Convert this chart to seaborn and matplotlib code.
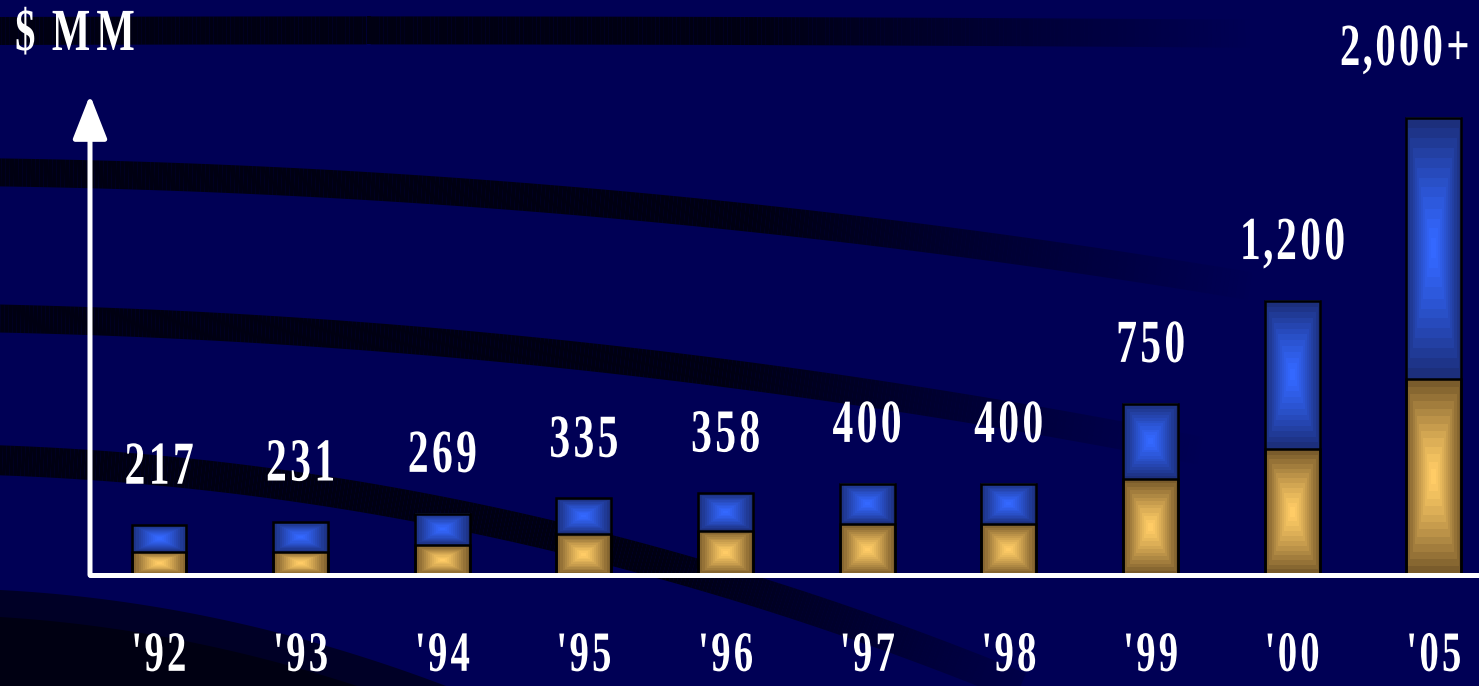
import numpy as np
import pandas as pd
import seaborn as sns
import matplotlib
matplotlib.use("Agg")
import matplotlib.pyplot as plt
from matplotlib.patheffects import AbstractPathEffect
from matplotlib.path import Path
from matplotlib.patches import Polygon
from matplotlib.collections import LineCollection
from matplotlib.colors import to_rgb

# ---------------- data ----------------
years = ["'92", "'93", "'94", "'95", "'96", "'97", "'98", "'99", "'00", "'05"]
totals = [217, 231, 269, 335, 358, 400, 400, 750, 1200, 2000]
gold_part = [101, 101, 131, 179, 193, 223, 223, 420, 551, 858]
value_labels = ["217", "231", "269", "335", "358", "400", "400", "750", "1,200", "2,000+"]
unit_label = "$ MM"

df = pd.DataFrame({"year": years, "total": totals, "gold": gold_part})

# ---------------- style ----------------
sns.set_theme(style="white")
plt.rcParams["font.family"] = ["Liberation Serif", "DejaVu Serif"]
plt.rcParams["font.weight"] = "bold"

BG = "#000055"
STRIPE_DARK = (0.0, 0.0, 0.07)
STRIPE_MID = (0.0, 0.0, 0.15)
BLUE_C, BLUE_E = "#3468ff", "#1c2f7c"
GOLD_C, GOLD_E = "#ffcc66", "#7a5c2c"
W, H = 1479, 686


class Condense(AbstractPathEffect):
    """Narrow each glyph (condensed Times look) while keeping wide letter spacing."""

    def __init__(self, sx_glyph=0.68, sx_pos=0.79, anchor="center"):
        super().__init__()
        self.sg = sx_glyph
        self.sp = sx_pos
        self.anchor = anchor

    def draw_path(self, renderer, gc, tpath, affine, rgbFace=None):
        verts = np.asarray(tpath.vertices, dtype=float)
        codes = tpath.codes
        if codes is None or len(verts) == 0:
            renderer.draw_path(gc, tpath, affine, rgbFace)
            return
        starts = list(np.where(codes == Path.MOVETO)[0]) + [len(codes)]
        contours = [(s, e) for s, e in zip(starts[:-1], starts[1:]) if e > s]
        ext = []
        for s, e in contours:
            m = codes[s:e] != Path.CLOSEPOLY
            xs = verts[s:e, 0][m]
            ext.append((xs.min(), xs.max()))
        order = sorted(range(len(contours)), key=lambda i: ext[i][0])
        groups, cur, cur_max = [], [], -np.inf
        for i in order:
            if cur and ext[i][0] < cur_max - 1.0:
                cur.append(i)
                cur_max = max(cur_max, ext[i][1])
            else:
                if cur:
                    groups.append(cur)
                cur, cur_max = [i], ext[i][1]
        if cur:
            groups.append(cur)
        x0_all = min(e[0] for e in ext)
        x1_all = max(e[1] for e in ext)
        if self.anchor == "left":
            ax_ = x0_all
        elif self.anchor == "right":
            ax_ = x1_all
        else:
            ax_ = 0.5 * (x0_all + x1_all)
        nv = verts.copy()
        for g in groups:
            gx0 = min(ext[i][0] for i in g)
            gx1 = max(ext[i][1] for i in g)
            gcx = 0.5 * (gx0 + gx1)
            new_c = ax_ + (gcx - ax_) * self.sp
            for i in g:
                s, e = contours[i]
                nv[s:e, 0] = new_c + (verts[s:e, 0] - gcx) * self.sg
        renderer.draw_path(gc, Path(nv, codes), affine, rgbFace)


fig = plt.figure(figsize=(W / 100, H / 100), dpi=100, facecolor=BG)

# ---------------- decorative background stripes ----------------
ax_bg = fig.add_axes([0, 0, 1, 1], zorder=0)
ax_bg.set_xlim(0, W)
ax_bg.set_ylim(H, 0)
ax_bg.axis("off")


def stripe(xpts, ypts, lw_px, x_end, color=STRIPE_DARK, fade=0.4):
    coef = np.polyfit(xpts, ypts, 2)
    xs = np.linspace(-20, x_end, 300)
    ys = np.polyval(coef, xs)
    pts = np.column_stack([xs, ys]).reshape(-1, 1, 2)
    segs = np.concatenate([pts[:-1], pts[1:]], axis=1)
    frac = np.clip(xs[:-1] / x_end, 0, 1)
    alpha = np.clip((1 - frac) / fade, 0, 1)
    cols = [(*color, a) for a in alpha]
    ax_bg.add_collection(LineCollection(segs, colors=cols, linewidths=lw_px * 0.72,
                                        capstyle="butt"))


def corner_fill(xpts, ypts, color):
    coef = np.polyfit(xpts, ypts, 2)
    xs = np.linspace(-5, xpts[-1] + 40, 200)
    ys = np.minimum(np.polyval(coef, xs), H + 5)
    poly = np.vstack([np.column_stack([xs, ys]), [[xs[-1], H + 5], [xs[0], H + 5]]])
    ax_bg.add_patch(Polygon(poly, closed=True, facecolor=color, edgecolor="none"))


stripe([0, 740, 1150], [31, 31, 33], 28, 1250)
stripe([0, 300, 740, 1100], [173, 181, 218, 262], 28, 1250)
stripe([0, 300, 740, 1100], [318, 333, 374, 432], 28, 1200)
stripe([0, 400, 740, 950], [460, 505, 585, 660], 30, 1100)
corner_fill([0, 200, 446], [590, 615, 686], STRIPE_MID)
corner_fill([0, 180, 357], [617, 640, 686], STRIPE_DARK)

# ---------------- main axes ----------------
ax = fig.add_axes([90 / W, (H - 575) / H, (W - 90) / W, 480 / H], zorder=1)
ax.patch.set_alpha(0)

bar_w = 0.388
sns.barplot(data=df, x="year", y="total", color=BLUE_E, width=bar_w,
            edgecolor="black", linewidth=1.8, ax=ax, zorder=2)
sns.barplot(data=df, x="year", y="gold", color=GOLD_E, width=bar_w,
            edgecolor="black", linewidth=1.8, ax=ax, zorder=3)


def grad_img(center, edge, bands=13, n=160, power=1.25):
    u = np.linspace(-1, 1, n)
    U, V = np.meshgrid(u, u)
    t = np.maximum(np.abs(U), np.abs(V))
    t = np.minimum(np.floor(t * bands), bands - 1) / (bands - 1)
    t = t ** power
    c = np.array(to_rgb(center))
    e = np.array(to_rgb(edge))
    return c + (e - c) * t[..., None]


blue_img = grad_img(BLUE_C, BLUE_E)
gold_img = grad_img(GOLD_C, GOLD_E)

n = len(years)
tot_patches = ax.patches[:n]
gold_patches = ax.patches[n:2 * n]
for pb, pg in zip(tot_patches, gold_patches):
    x0, w = pb.get_x(), pb.get_width()
    g_top = pg.get_y() + pg.get_height()
    t_top = pb.get_y() + pb.get_height()
    ax.imshow(gold_img, extent=[x0, x0 + w, 0, g_top], aspect="auto",
              interpolation="nearest", zorder=1.5)
    ax.imshow(blue_img, extent=[x0, x0 + w, g_top, t_top], aspect="auto",
              interpolation="nearest", zorder=1.5)
    pb.set_facecolor("none")
    pg.set_facecolor("none")

ax.set_xlim(-0.487, 9.318)
ax.set_ylim(0, 2100)
ax.set_xlabel("")
ax.set_ylabel("")
ax.set_yticks([])
for s in ax.spines.values():
    s.set_visible(False)

# axes: white baseline and arrowed vertical axis
ax.axhline(0, color="white", lw=3.6, zorder=6, clip_on=False)
ax.annotate("", xy=(0, 1), xycoords="axes fraction", xytext=(0, 0),
            textcoords="axes fraction", annotation_clip=False, zorder=6,
            arrowprops=dict(arrowstyle="-|>,head_length=2.7,head_width=1.06",
                            color="white", lw=3.6, shrinkA=0, shrinkB=0,
                            mutation_scale=10))

# tick labels (baseline placed near the bottom edge)
ax.tick_params(axis="x", length=0, pad=69, labelsize=41, labelcolor="white")
for lbl in ax.get_xticklabels():
    lbl.set_fontweight("bold")
    lbl.set_verticalalignment("baseline")
    lbl.set_path_effects([Condense()])

# value labels above bars (last one sits at the top-right corner)
for i, pb in enumerate(tot_patches[:-1]):
    cx = pb.get_x() + pb.get_width() / 2
    top = pb.get_y() + pb.get_height()
    ax.annotate(value_labels[i], xy=(cx, top), xytext=(0, 30),
                textcoords="offset points", ha="center", va="baseline",
                color="white", fontsize=44, fontweight="bold",
                path_effects=[Condense()])

fig.text(1472 / W, 1 - 65 / H, value_labels[-1], ha="right", va="baseline",
         color="white", fontsize=43, fontweight="bold",
         path_effects=[Condense(anchor="right")])

fig.text(13 / W, 1 - 50 / H, unit_label, ha="left", va="baseline",
         color="white", fontsize=43, fontweight="bold",
         path_effects=[Condense(anchor="left")])

fig.savefig("out.png", dpi=100, facecolor=BG)
